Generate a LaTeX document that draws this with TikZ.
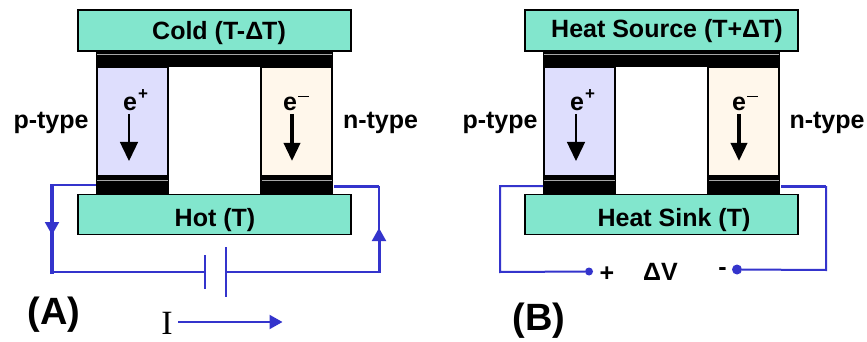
\documentclass[tikz,border=0pt]{standalone}
\usepackage{fontspec}
\setmainfont{Liberation Sans}
\newfontfamily\serifI{Liberation Serif}
\usetikzlibrary{arrows.meta}
\definecolor{plate}{RGB}{130,230,205}
\definecolor{ptype}{RGB}{222,222,253}
\definecolor{ntype}{RGB}{255,247,235}
\definecolor{wire}{RGB}{52,52,204}
\tikzset{
 x=1pt,y=-1pt,
 box/.style={draw=black,line width=1.5pt,inner sep=0pt,outer sep=0pt},
 lbl/.style={font=\bfseries\fontsize{25}{27}\selectfont,inner sep=0pt,text=black},
 big/.style={font=\bfseries\fontsize{38}{40}\selectfont,inner sep=0pt},
 wirethin/.style={draw=wire,line width=2pt},
 wirethick/.style={draw=wire,line width=3.5pt},
 hair/.style={draw=black!35,line width=0.4pt},
 tipk/.style={-{Triangle[length=19pt,width=18pt]},black},
 tipw/.style={-{Triangle[length=13pt,width=14pt]},wire},
 dot/.style={circle,fill=wire,inner sep=0pt},
}
\newcommand{\module}[2]{%
 \begin{scope}[xshift=#1pt]
  \fill[black] (96,52) rectangle (333,67);
  \draw[hair] (97,54.5) -- (332,54.5);
  \node[box,fill=ptype,minimum width=71pt,minimum height=109pt,anchor=north west] (#2p) at (97,67) {};
  \node[box,fill=ntype,minimum width=71pt,minimum height=109pt,anchor=north west] (#2n) at (261,67) {};
  \fill[black] (96,176) rectangle (169,194);
  \fill[black] (260,176) rectangle (333,194);
  \draw[hair] (97,180) -- (168,180);
  \draw[hair] (262,180) -- (332,180);
  \node[box,fill=plate,minimum width=273pt,minimum height=41pt,anchor=north west] (#2top) at (78,10) {};
  \node[box,fill=plate,minimum width=273pt,minimum height=40pt,anchor=north west] (#2bot) at (78,194.5) {};
 \end{scope}}
\begin{document}
\begin{tikzpicture}
\useasboundingbox (0,0) rectangle (867,342);
\fill[white] (0,0) rectangle (867,342);
\module{0}{a}
\module{447}{b}
\node[lbl] (tA) at (219,33) {Cold (T-Δ\kern-1ptT)};
\node[lbl] (hA) at (215,220) {Hot (T)};
\node[lbl] (tB) at (667,31) {Heat Source (T+Δ\kern-1ptT)};
\node[lbl] (hB) at (674,220) {Heat Sink (T)};
\node[lbl] (pa) at (51,123) {p-type};
\node[lbl] (na) at (380.5,123) {n-type};
\node[lbl] (pb) at (500,123) {p-type};
\node[lbl] (nb) at (827,123) {n-type};
% carriers
\foreach \x/\pre in {129/a,576/b}{
 \node[lbl] (\pre ec) at (\x+1,104) {e};
 \node[font=\bfseries\fontsize{17}{17}\selectfont,inner sep=0pt] (\pre ep) at (\x+14,95) {+};
 \coordinate (\pre s) at (\x,114); \coordinate (\pre t) at (\x,161);
 \draw[line width=1.4pt,tipk] (\pre s) -- (\pre t);
}
\foreach \x/\dx/\pre in {292/-2/c,739/0/d}{
 \node[lbl] (\pre ec) at (\x+\dx,104) {e};
 \draw[line width=1pt] (\x+\dx+8,96.5) -- (\x+\dx+19,96.5);
 \coordinate (\pre s) at (\x,114); \coordinate (\pre t) at (\x,161);
 \draw[line width=3.6pt,-{Triangle[length=18pt,width=16pt]},black] (\pre s) -- (\pre t);
}
% circuit A
\coordinate (a1) at (96,185);
\coordinate (a2) at (52,185);
\coordinate (a3) at (52,272);
\coordinate (c1) at (205,272);
\coordinate (c2) at (226,272);
\coordinate (a4) at (379,272);
\coordinate (a5) at (379,186);
\coordinate (a6) at (334,186);
\draw[wirethin] (a1) -- (a2);
\draw[wirethick,line cap=rect] (52,186) -- (a3);
\draw[wirethin] (a3) -- (c1);
\draw[wirethin] (205,255) -- (205,289);
\draw[wirethin] (226,247) -- (226,297);
\draw[wirethin] (c2) -- (a4);
\draw[draw=wire,line width=3pt] (379,273) -- (379,240);
\draw[wirethin] (379,240) -- (a5);
\draw[draw=wire,line width=3pt] (a5) -- (a6);
\coordinate (ar1) at (52,221); \coordinate (ar2) at (52,235);
\draw[wirethin,tipw] (ar1) -- (ar2);
\coordinate (ar3) at (379,243); \coordinate (ar4) at (379,228);
\draw[wirethin,tipw] (ar3) -- (ar4);
% current
\node[font=\serifI\fontsize{34}{34}\selectfont,inner sep=0pt] (Iy) at (167,323.5) {I};
\coordinate (i1) at (178,322); \coordinate (i2) at (282.5,322);
\draw[wirethin,tipw] (i1) -- (i2);
\node[big] (A) at (54,315) {(A)};
% circuit B
\coordinate (b1) at (543,186);
\coordinate (b2) at (500,186);
\coordinate (b3) at (500,272);
\node[dot,minimum size=8pt] (dp) at (589,271.5) {};
\node[dot,minimum size=10pt] (dm) at (737,269.5) {};
\coordinate (b4) at (826,270);
\coordinate (b5) at (826,186);
\coordinate (b6) at (781,186);
\draw[wirethin] (b1) -- (b2) -- (b3) -- (dp);
\draw[wirethin] (dm) -- (b4) -- (b5);
\draw[draw=wire,line width=3pt] (b5) -- (b6);
\node[lbl] (plus) at (607,274) {+};
\node[lbl] (dv) at (660.5,272) {ΔV};
\node[lbl] (minus) at (722.5,272) {-};
\node[big] (B) at (539,321) {(B)};
\end{tikzpicture}
\end{document}
